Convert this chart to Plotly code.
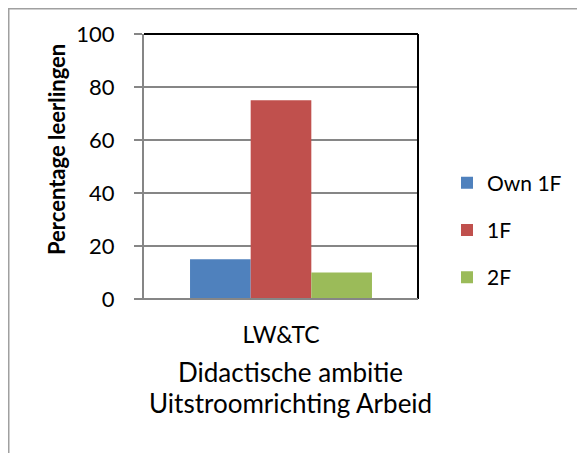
import plotly.graph_objects as go

categories = ["LW&TC"]
series_names = ["Own 1F", "1F", "2F"]
own1f = [15]
f1 = [75]
f2 = [10]
colors = ["#4F81BD", "#C0504D", "#9BBB59"]
y_ticks = [0, 20, 40, 60, 80, 100]
y_title = "Percentage leerlingen"
x_title_lines = ["Didactische ambitie", "Uitstroomrichting Arbeid"]

FONT = "Lato"
OFF = 8  # page body margin
W, H = 585 - OFF, 453 - OFF
# plot area in screenshot pixels
SL, SR, ST, SB = 144, 418, 34, 299
L, R, T, B = SL - OFF, SR - OFF, ST - OFF, SB - OFF
pw, ph = R - L, B - T


def px_x(sx):
    return (sx - OFF - L) / pw


def px_y(sy):
    return (B - (sy - OFF)) / ph


fig = go.Figure()
for i, (name, vals) in enumerate(zip(series_names, [own1f, f1, f2])):
    fig.add_trace(go.Bar(x=categories, y=vals, name=name, marker_color=colors[i],
                         marker_line_width=0, legendgroup=name))

fig.update_layout(
    width=W, height=H,
    margin=dict(l=L, r=W - R, t=T, b=H - B, pad=0),
    paper_bgcolor="white", plot_bgcolor="white",
    barmode="group", bargap=0.336, bargroupgap=0,
    font=dict(family=FONT, size=22, color="black"),
    showlegend=True,
    legend=dict(x=px_x(447), xanchor="left", y=px_y(230), yanchor="middle",
                tracegroupgap=17, font=dict(size=21), bgcolor="rgba(0,0,0,0)"),
    xaxis=dict(showgrid=False, showline=False, ticks="", ticklabelstandoff=20,
               zeroline=False, tickfont=dict(size=23)),
    yaxis=dict(range=[0, 100], tickvals=y_ticks, showgrid=True, gridcolor="#868686",
               gridwidth=1.5, showline=True, linecolor="#868686", linewidth=2,
               ticks="outside", ticklen=8, tickcolor="#868686", tickwidth=1.5,
               ticklabelstandoff=15, zeroline=False, tickfont=dict(size=22)),
)

# plot-area top/right border (black) and bottom axis line
fig.add_shape(type="line", xref="paper", yref="paper", x0=0, x1=1, y0=1, y1=1,
              line=dict(color="black", width=2))
fig.add_shape(type="line", xref="paper", yref="paper", x0=1, x1=1, y0=0, y1=1,
              line=dict(color="black", width=2))
fig.add_shape(type="line", xref="paper", yref="paper", x0=px_x(136), x1=1, y0=0, y1=0,
              line=dict(color="#868686", width=2))
# outer chart border
fig.add_shape(type="rect", xref="paper", yref="paper", x0=px_x(8.75), x1=px_x(600),
              y0=px_y(470), y1=px_y(8.75), line=dict(color="#A0A0A0", width=1.5))

# y axis title
fig.add_annotation(text="<b>" + y_title + "</b>", xref="paper", yref="paper",
                   x=px_x(56), y=px_y(150), textangle=-90, showarrow=False,
                   xanchor="center", yanchor="middle", font=dict(size=22, family=FONT))

# x axis title (two lines)
for line_text, sy in zip(x_title_lines, [372, 403]):
    fig.add_annotation(text=line_text, xref="paper", yref="paper",
                       x=px_x(290), y=px_y(sy), xanchor="center", yanchor="middle",
                       showarrow=False, font=dict(size=26, family=FONT))

fig.write_html("out.html")
